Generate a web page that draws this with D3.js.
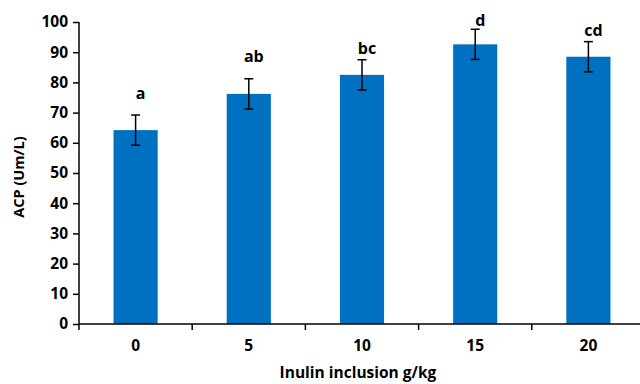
<!DOCTYPE html>
<html>
<head>
<meta charset="utf-8">
<script src="https://cdn.jsdelivr.net/npm/d3@7"></script>
<style>
  body { margin: 0; background: #fff; }
  text { font-family: "Open Sans", sans-serif; font-weight: bold; }
</style>
</head>
<body>
<div id="mainContainer"></div>
<script>
// data
var doses = ["0", "5", "10", "15", "20"];
var acp = [64.2, 76.2, 82.5, 92.6, 88.5];
var acpErr = [5.0, 5.0, 5.0, 5.0, 5.0];
var letters = ["a", "ab", "bc", "d", "cd"];
var letterLevel = [76.5, 88.7, 91.3, 100.7, 97.2];
var yTicks = [0, 10, 20, 30, 40, 50, 60, 70, 80, 90, 100];

var margin = { top: 22, right: -5, bottom: 60, left: 79 },
    width = 640 - margin.left - margin.right,
    height = 384 - margin.top - margin.bottom;

var svg = d3.select('#mainContainer').append('svg')
    .attr('width', 640)
    .attr('height', 384);

var g = svg.append('g')
    .attr('transform', 'translate(' + margin.left + ',' + margin.top + ')');

var xscale = d3.scaleBand()
    .domain(doses)
    .range([0, width])
    .paddingInner(0.61)
    .paddingOuter(0.305);

var yscale = d3.scaleLinear()
    .domain([0, 100])
    .range([height, 0]);

// bars
g.selectAll("rect.bar")
    .data(doses)
    .enter().append("rect")
    .attr("class", "bar")
    .attr("fill", "#0070C0")
    .attr("x", function(d) { return xscale(d); })
    .attr("width", xscale.bandwidth())
    .attr("y", function(d, i) { return yscale(acp[i]); })
    .attr("height", function(d, i) { return height - yscale(acp[i]); });

// error bars
var eb = g.selectAll("g.err")
    .data(doses)
    .enter().append("g")
    .attr("class", "err")
    .attr("stroke", "#000")
    .attr("stroke-width", 1.5);
eb.append("line")
    .attr("x1", function(d) { return xscale(d) + xscale.bandwidth() / 2; })
    .attr("x2", function(d) { return xscale(d) + xscale.bandwidth() / 2; })
    .attr("y1", function(d, i) { return yscale(acp[i] + acpErr[i]); })
    .attr("y2", function(d, i) { return yscale(acp[i] - acpErr[i]); });
[1, -1].forEach(function(s) {
    eb.append("line")
        .attr("x1", function(d) { return xscale(d) + xscale.bandwidth() / 2 - 4.5; })
        .attr("x2", function(d) { return xscale(d) + xscale.bandwidth() / 2 + 4.5; })
        .attr("y1", function(d, i) { return yscale(acp[i] + s * acpErr[i]); })
        .attr("y2", function(d, i) { return yscale(acp[i] + s * acpErr[i]); });
});

// significance letters
g.selectAll("text.letter")
    .data(doses)
    .enter().append("text")
    .attr("class", "letter")
    .attr("x", function(d) { return xscale(d) + xscale.bandwidth() / 2 + 5; })
    .attr("y", function(d, i) { return yscale(letterLevel[i]); })
    .attr("dy", "0.35em")
    .attr("text-anchor", "middle")
    .attr("font-size", "16px")
    .attr("fill", "#000")
    .text(function(d, i) { return letters[i]; });

// y axis
var yAxis = g.append("g")
    .call(d3.axisLeft(yscale).tickValues(yTicks).tickSize(6).tickPadding(5));
yAxis.select(".domain").attr("stroke-width", 1.5).attr("d", "M0," + height + "V0");
yAxis.selectAll(".tick line").attr("stroke-width", 1.5);
yAxis.selectAll("text").attr("font-size", "15.5px").attr("fill", "#000");

// x axis, ticks sit between categories
var bounds = d3.range(doses.length).map(function(i) { return i * xscale.step(); });
var xAxis = g.append("g")
    .attr("transform", "translate(0," + height + ")");
xAxis.append("line")
    .attr("x1", 0).attr("x2", width)
    .attr("stroke", "#000").attr("stroke-width", 1.5);
xAxis.selectAll("line.tk")
    .data(bounds)
    .enter().append("line")
    .attr("class", "tk")
    .attr("x1", function(d) { return d; }).attr("x2", function(d) { return d; })
    .attr("y1", 0).attr("y2", 6)
    .attr("stroke", "#000").attr("stroke-width", 1.5);
xAxis.selectAll("text")
    .data(doses)
    .enter().append("text")
    .attr("x", function(d) { return xscale(d) + xscale.bandwidth() / 2; })
    .attr("y", 22)
    .attr("dy", "0.35em")
    .attr("text-anchor", "middle")
    .attr("font-size", "15.5px")
    .attr("fill", "#000")
    .text(function(d) { return d; });

// axis titles
svg.append("text")
    .attr("x", 358)
    .attr("y", 373)
    .attr("dy", "0.35em")
    .attr("text-anchor", "middle")
    .attr("font-size", "15.5px")
    .attr("fill", "#000")
    .text("Inulin inclusion g/kg");

svg.append("text")
    .attr("transform", "translate(19,177) rotate(-90)")
    .attr("dy", "0.35em")
    .attr("text-anchor", "middle")
    .attr("font-size", "14.5px")
    .attr("fill", "#000")
    .text("ACP (Um/L)");
</script>
</body>
</html>
